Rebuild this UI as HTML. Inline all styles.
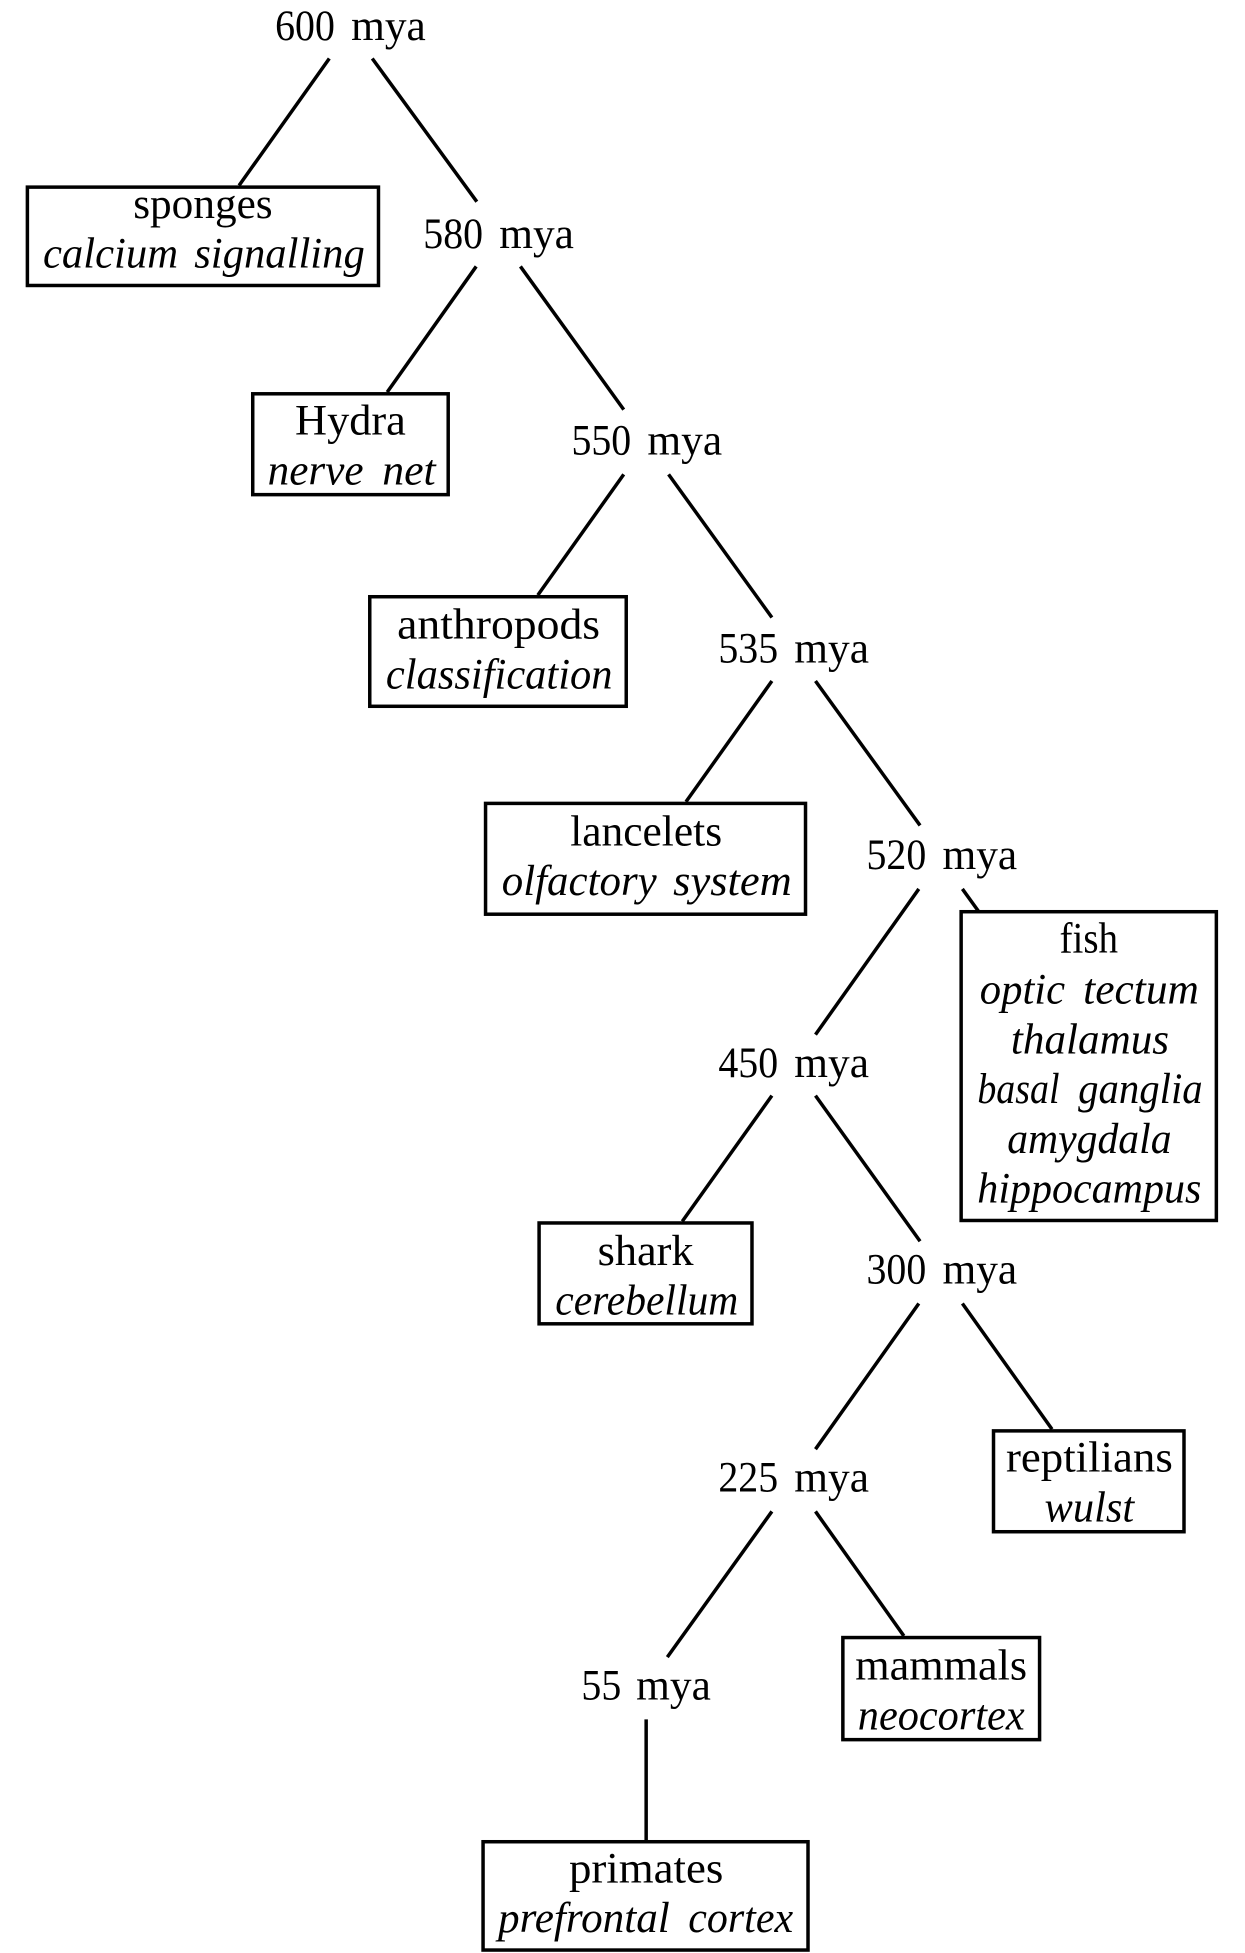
<!DOCTYPE html>
<html>
<head>
<meta charset="utf-8">
<style>
html,body{margin:0;padding:0;background:#fff;width:1245px;height:1953px;overflow:hidden}
svg{display:block}
text{font-family:"Liberation Serif",serif;font-size:35px;fill:#000}
.i{font-style:italic}
line,rect{stroke:#000;stroke-width:2.8;fill:none}
</style>
</head>
<body>
<svg width="1245" height="1953" viewBox="0 0 1000 1568.67" preserveAspectRatio="none" xmlns="http://www.w3.org/2000/svg">
<line x1="264.5" y1="47" x2="192" y2="149"/>
<line x1="299" y1="47" x2="383" y2="162"/>
<line x1="382.5" y1="214" x2="311" y2="315"/>
<line x1="418" y1="214" x2="501" y2="329"/>
<line x1="501" y1="381" x2="432" y2="478"/>
<line x1="537" y1="381" x2="620" y2="496"/>
<line x1="620" y1="547" x2="551" y2="644"/>
<line x1="655" y1="547" x2="739" y2="663"/>
<line x1="738" y1="714" x2="655" y2="831"/>
<line x1="773" y1="714" x2="786" y2="732"/>
<line x1="620" y1="880" x2="548" y2="981"/>
<line x1="655" y1="880" x2="739" y2="997"/>
<line x1="738" y1="1047" x2="655" y2="1164"/>
<line x1="773" y1="1047" x2="845" y2="1148"/>
<line x1="620" y1="1214" x2="536" y2="1331"/>
<line x1="655" y1="1214" x2="726" y2="1314"/>
<line x1="519" y1="1381" x2="519" y2="1478"/>

<rect x="22" y="150.3" width="282" height="79"/>
<rect x="203" y="316.3" width="157" height="81"/>
<rect x="297" y="479.3" width="206" height="88"/>
<rect x="390" y="645.3" width="257" height="89"/>
<rect x="772" y="732.3" width="205" height="248"/>
<rect x="433" y="982.3" width="171" height="81"/>
<rect x="798" y="1149.3" width="153" height="81"/>
<rect x="677" y="1315.3" width="158" height="82"/>
<rect x="388" y="1479.3" width="261" height="87"/>

<text x="221" y="32" textLength="48" lengthAdjust="spacingAndGlyphs">600</text><text x="282" y="32" textLength="60" lengthAdjust="spacingAndGlyphs">mya</text>
<text x="340" y="199" textLength="48" lengthAdjust="spacingAndGlyphs">580</text><text x="401" y="199" textLength="60" lengthAdjust="spacingAndGlyphs">mya</text>
<text x="459" y="365" textLength="48" lengthAdjust="spacingAndGlyphs">550</text><text x="520" y="365" textLength="60" lengthAdjust="spacingAndGlyphs">mya</text>
<text x="577" y="532" textLength="48" lengthAdjust="spacingAndGlyphs">535</text><text x="638" y="532" textLength="60" lengthAdjust="spacingAndGlyphs">mya</text>
<text x="696" y="698" textLength="48" lengthAdjust="spacingAndGlyphs">520</text><text x="757" y="698" textLength="60" lengthAdjust="spacingAndGlyphs">mya</text>
<text x="577" y="865" textLength="48" lengthAdjust="spacingAndGlyphs">450</text><text x="638" y="865" textLength="60" lengthAdjust="spacingAndGlyphs">mya</text>
<text x="696" y="1031" textLength="48" lengthAdjust="spacingAndGlyphs">300</text><text x="757" y="1031" textLength="60" lengthAdjust="spacingAndGlyphs">mya</text>
<text x="577" y="1198" textLength="48" lengthAdjust="spacingAndGlyphs">225</text><text x="638" y="1198" textLength="60" lengthAdjust="spacingAndGlyphs">mya</text>
<text x="467" y="1365" textLength="32" lengthAdjust="spacingAndGlyphs">55</text><text x="511" y="1365" textLength="60" lengthAdjust="spacingAndGlyphs">mya</text>

<text x="107" y="175" textLength="112" lengthAdjust="spacingAndGlyphs">sponges</text>
<text class="i" x="34.5" y="215" textLength="108.5" lengthAdjust="spacingAndGlyphs">calcium</text><text class="i" x="156" y="215" textLength="137" lengthAdjust="spacingAndGlyphs">signalling</text>
<text x="237" y="349" textLength="89" lengthAdjust="spacingAndGlyphs">Hydra</text>
<text class="i" x="215" y="389" textLength="77" lengthAdjust="spacingAndGlyphs">nerve</text><text class="i" x="307" y="389" textLength="43" lengthAdjust="spacingAndGlyphs">net</text>
<text x="319" y="513" textLength="163" lengthAdjust="spacingAndGlyphs">anthropods</text>
<text class="i" x="310" y="553" textLength="182" lengthAdjust="spacingAndGlyphs">classification</text>
<text x="458" y="679" textLength="122" lengthAdjust="spacingAndGlyphs">lancelets</text>
<text class="i" x="403" y="719" textLength="124.5" lengthAdjust="spacingAndGlyphs">olfactory</text><text class="i" x="540.7" y="719" textLength="95.3" lengthAdjust="spacingAndGlyphs">system</text>
<text x="851" y="765" textLength="47" lengthAdjust="spacingAndGlyphs">fish</text>
<text class="i" x="787" y="806" textLength="68.5" lengthAdjust="spacingAndGlyphs">optic</text><text class="i" x="870" y="806" textLength="93" lengthAdjust="spacingAndGlyphs">tectum</text>
<text class="i" x="812" y="846" textLength="127" lengthAdjust="spacingAndGlyphs">thalamus</text>
<text class="i" x="785" y="886" textLength="66" lengthAdjust="spacingAndGlyphs">basal</text><text class="i" x="866" y="886" textLength="100" lengthAdjust="spacingAndGlyphs">ganglia</text>
<text class="i" x="809" y="926" textLength="132" lengthAdjust="spacingAndGlyphs">amygdala</text>
<text class="i" x="785" y="966" textLength="180" lengthAdjust="spacingAndGlyphs">hippocampus</text>
<text x="480" y="1016" textLength="77" lengthAdjust="spacingAndGlyphs">shark</text>
<text class="i" x="446" y="1056" textLength="147" lengthAdjust="spacingAndGlyphs">cerebellum</text>
<text x="808" y="1182" textLength="134" lengthAdjust="spacingAndGlyphs">reptilians</text>
<text class="i" x="839" y="1222" textLength="72" lengthAdjust="spacingAndGlyphs">wulst</text>
<text x="687" y="1349" textLength="138" lengthAdjust="spacingAndGlyphs">mammals</text>
<text class="i" x="689" y="1389" textLength="134" lengthAdjust="spacingAndGlyphs">neocortex</text>
<text x="457" y="1512" textLength="124" lengthAdjust="spacingAndGlyphs">primates</text>
<text class="i" x="400" y="1552" textLength="138" lengthAdjust="spacingAndGlyphs">prefrontal</text><text class="i" x="552.8" y="1552" textLength="84.2" lengthAdjust="spacingAndGlyphs">cortex</text>
</svg>
</body>
</html>
